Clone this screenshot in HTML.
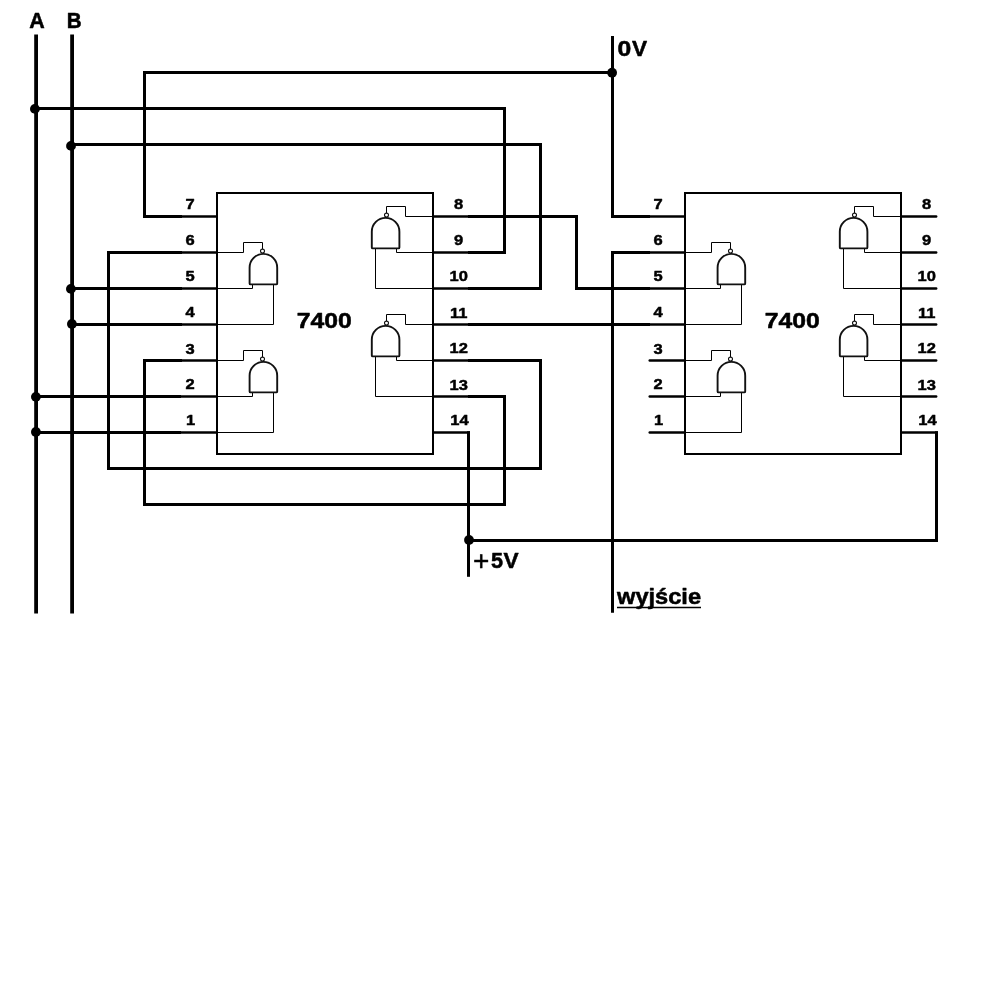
<!DOCTYPE html>
<html><head><meta charset="utf-8"><title>7400</title>
<style>
html,body{margin:0;padding:0;background:#fff;}
body{width:1000px;height:1000px;overflow:hidden;font-family:"Liberation Sans",sans-serif;}
svg{display:block;will-change:transform;}
.s3{fill:none;stroke:#000;stroke-width:3.0;stroke-linecap:butt;stroke-linejoin:miter;}
.s2{fill:none;stroke:#000;stroke-width:2.4;}
.rc{stroke-linecap:round;}
.s1{fill:none;stroke:#000;stroke-width:1;}
.chip{fill:#fff;stroke:#000;stroke-width:2;}
.gt{fill:#fff;stroke:#111;stroke-width:1.9;stroke-linejoin:round;}
.bb{fill:#fff;stroke:#111;stroke-width:1.1;}
text{font-family:"Liberation Sans",sans-serif;font-weight:bold;fill:#000;text-anchor:middle;stroke:#000;stroke-width:0.5px;stroke-linejoin:round;}
text.l{text-anchor:start;}
.pin{font-size:14px;stroke-width:0.45px;}
.big{font-size:20.6px;}
.plus{font-size:28px;font-weight:normal;stroke-width:0.45px;}
</style></head><body>
<svg width="1000" height="1000" viewBox="0 0 1000 1000">
<path d="M36.1,34.5 V613.5 M72.1,34.5 V613.5" class="s3" style="stroke-width:3.8"/>
<path d="M612.5,36.0 L612.5,216.5 L650,216.5" class="s3"/>
<path d="M612.5,72.5 L144.5,72.5 L144.5,216.5 L182,216.5" class="s3"/>
<path d="M36.5,108.5 L504.5,108.5 L504.5,252.5 L468,252.5" class="s3"/>
<path d="M72.5,144.5 L540.5,144.5 L540.5,288.5 L468,288.5" class="s3"/>
<path d="M72.5,288.5 L182,288.5" class="s3"/>
<path d="M72.5,324.5 L182,324.5" class="s3"/>
<path d="M36.5,396.5 L181,396.5" class="s3"/>
<path d="M36.5,432.5 L181,432.5" class="s3"/>
<path d="M182,252.5 L108.5,252.5 L108.5,468.5 L540.5,468.5 L540.5,360.5 L468,360.5" class="s3"/>
<path d="M182,360.5 L144.5,360.5 L144.5,504.5 L504.5,504.5 L504.5,396.5 L468,396.5" class="s3"/>
<path d="M468.5,431.2 L468.5,576.8" class="s3"/>
<path d="M468.5,540.5 L936.5,540.5 L936.5,431.2" class="s3"/>
<path d="M468,216.5 L576.5,216.5 L576.5,288.5 L650,288.5" class="s3"/>
<path d="M468,324.5 L650,324.5" class="s3"/>
<path d="M650,252.5 L612.5,252.5 L612.5,612.8" class="s3"/>
<path d="M180,216.5 H216" class="s2"/>
<path d="M180,252.5 H216" class="s2"/>
<path d="M180,288.5 H216" class="s2"/>
<path d="M180,324.5 H216" class="s2"/>
<path d="M180,360.5 H216" class="s2"/>
<path d="M180,396.5 H216" class="s2"/>
<path d="M180,432.5 H216" class="s2"/>
<path d="M434,216.5 H470" class="s2"/>
<path d="M434,252.5 H470" class="s2"/>
<path d="M434,288.5 H470" class="s2"/>
<path d="M434,324.5 H470" class="s2"/>
<path d="M434,360.5 H470" class="s2"/>
<path d="M434,396.5 H470" class="s2"/>
<path d="M434,432.5 H470" class="s2"/>
<rect x="217" y="193" width="216" height="261" class="chip"/>
<path d="M217,252.5 H243.5 V242.5 H262.5 V249" class="s1"/>
<path d="M217,288.5 H252.5 V284" class="s1"/>
<path d="M217,324.5 H273.5 V284" class="s1"/>
<path d="M249.6,283.4 L249.6,267.7 A13.799999999999997,13.799999999999997 0 0 1 277.2,267.7 L277.2,283.4 Q277.2,284.4 276.2,284.4 L250.6,284.4 Q249.6,284.4 249.6,283.4 Z" class="gt"/>
<circle cx="262.5" cy="251.1" r="2.0" class="bb"/>
<path d="M217,360.5 H243.5 V350.5 H262.5 V357" class="s1"/>
<path d="M217,396.5 H252.5 V392" class="s1"/>
<path d="M217,432.5 H273.5 V392" class="s1"/>
<path d="M249.6,391.4 L249.6,375.7 A13.799999999999997,13.799999999999997 0 0 1 277.2,375.7 L277.2,391.4 Q277.2,392.4 276.2,392.4 L250.6,392.4 Q249.6,392.4 249.6,391.4 Z" class="gt"/>
<circle cx="262.5" cy="359.1" r="2.0" class="bb"/>
<path d="M432,216.5 H405.5 V206.5 H386.5 V213" class="s1"/>
<path d="M432,252.5 H396.5 V248" class="s1"/>
<path d="M432,288.5 H375.5 V248" class="s1"/>
<path d="M399.4,247.4 L399.4,231.7 A13.799999999999997,13.799999999999997 0 0 0 371.8,231.7 L371.8,247.4 Q371.8,248.4 372.8,248.4 L398.4,248.4 Q399.4,248.4 399.4,247.4 Z" class="gt"/>
<circle cx="386.5" cy="215.1" r="2.0" class="bb"/>
<path d="M432,324.5 H405.5 V314.5 H386.5 V321" class="s1"/>
<path d="M432,360.5 H396.5 V356" class="s1"/>
<path d="M432,396.5 H375.5 V356" class="s1"/>
<path d="M399.4,355.4 L399.4,339.7 A13.799999999999997,13.799999999999997 0 0 0 371.8,339.7 L371.8,355.4 Q371.8,356.4 372.8,356.4 L398.4,356.4 Q399.4,356.4 399.4,355.4 Z" class="gt"/>
<circle cx="386.5" cy="323.1" r="2.0" class="bb"/>
<text class="pin" transform="translate(190,209.0) scale(1.18,1.05)">7</text>
<text class="pin" transform="translate(190,245.0) scale(1.18,1.05)">6</text>
<text class="pin" transform="translate(190,281.0) scale(1.18,1.05)">5</text>
<text class="pin" transform="translate(190,317.0) scale(1.18,1.05)">4</text>
<text class="pin" transform="translate(190,354.0) scale(1.18,1.05)">3</text>
<text class="pin" transform="translate(190,389.0) scale(1.18,1.05)">2</text>
<text class="pin" transform="translate(190.6,425.0) scale(1.18,1.05)">1</text>
<text class="pin" transform="translate(458.7,209.0) scale(1.18,1.05)">8</text>
<text class="pin" transform="translate(458.7,245.0) scale(1.18,1.05)">9</text>
<text class="pin" transform="translate(458.7,281.0) scale(1.18,1.05)">10</text>
<text class="pin" transform="translate(458.7,318.0) scale(1.18,1.05)">11</text>
<text class="pin" transform="translate(458.7,353.0) scale(1.18,1.05)">12</text>
<text class="pin" transform="translate(458.7,390.0) scale(1.18,1.05)">13</text>
<text class="pin" transform="translate(459.5,425.0) scale(1.18,1.05)">14</text>
<text class="big" transform="translate(324.3,328.2) scale(1.2,1.035)">7400</text>
<path d="M648,216.5 H684" class="s2"/>
<path d="M648,252.5 H684" class="s2"/>
<path d="M648,288.5 H684" class="s2"/>
<path d="M648,324.5 H684" class="s2"/>
<path d="M649.7,360.5 H684" class="s2 rc"/>
<path d="M649.7,396.5 H684" class="s2 rc"/>
<path d="M649.7,432.5 H684" class="s2 rc"/>
<path d="M902,216.5 H936.2" class="s2 rc"/>
<path d="M902,252.5 H936.2" class="s2 rc"/>
<path d="M902,288.5 H936.2" class="s2 rc"/>
<path d="M902,324.5 H936.2" class="s2 rc"/>
<path d="M902,360.5 H936.2" class="s2 rc"/>
<path d="M902,396.5 H936.2" class="s2 rc"/>
<path d="M902,432.5 H938" class="s2"/>
<rect x="685" y="193" width="216" height="261" class="chip"/>
<path d="M685,252.5 H711.5 V242.5 H730.5 V249" class="s1"/>
<path d="M685,288.5 H720.5 V284" class="s1"/>
<path d="M685,324.5 H741.5 V284" class="s1"/>
<path d="M717.6,283.4 L717.6,267.7 A13.799999999999997,13.799999999999997 0 0 1 745.2,267.7 L745.2,283.4 Q745.2,284.4 744.2,284.4 L718.6,284.4 Q717.6,284.4 717.6,283.4 Z" class="gt"/>
<circle cx="730.5" cy="251.1" r="2.0" class="bb"/>
<path d="M685,360.5 H711.5 V350.5 H730.5 V357" class="s1"/>
<path d="M685,396.5 H720.5 V392" class="s1"/>
<path d="M685,432.5 H741.5 V392" class="s1"/>
<path d="M717.6,391.4 L717.6,375.7 A13.799999999999997,13.799999999999997 0 0 1 745.2,375.7 L745.2,391.4 Q745.2,392.4 744.2,392.4 L718.6,392.4 Q717.6,392.4 717.6,391.4 Z" class="gt"/>
<circle cx="730.5" cy="359.1" r="2.0" class="bb"/>
<path d="M900,216.5 H873.5 V206.5 H854.5 V213" class="s1"/>
<path d="M900,252.5 H864.5 V248" class="s1"/>
<path d="M900,288.5 H843.5 V248" class="s1"/>
<path d="M867.4,247.4 L867.4,231.7 A13.799999999999997,13.799999999999997 0 0 0 839.8,231.7 L839.8,247.4 Q839.8,248.4 840.8,248.4 L866.4,248.4 Q867.4,248.4 867.4,247.4 Z" class="gt"/>
<circle cx="854.5" cy="215.1" r="2.0" class="bb"/>
<path d="M900,324.5 H873.5 V314.5 H854.5 V321" class="s1"/>
<path d="M900,360.5 H864.5 V356" class="s1"/>
<path d="M900,396.5 H843.5 V356" class="s1"/>
<path d="M867.4,355.4 L867.4,339.7 A13.799999999999997,13.799999999999997 0 0 0 839.8,339.7 L839.8,355.4 Q839.8,356.4 840.8,356.4 L866.4,356.4 Q867.4,356.4 867.4,355.4 Z" class="gt"/>
<circle cx="854.5" cy="323.1" r="2.0" class="bb"/>
<text class="pin" transform="translate(658,209.0) scale(1.18,1.05)">7</text>
<text class="pin" transform="translate(658,245.0) scale(1.18,1.05)">6</text>
<text class="pin" transform="translate(658,281.0) scale(1.18,1.05)">5</text>
<text class="pin" transform="translate(658,317.0) scale(1.18,1.05)">4</text>
<text class="pin" transform="translate(658,354.0) scale(1.18,1.05)">3</text>
<text class="pin" transform="translate(658,389.0) scale(1.18,1.05)">2</text>
<text class="pin" transform="translate(658.6,425.0) scale(1.18,1.05)">1</text>
<text class="pin" transform="translate(926.7,209.0) scale(1.18,1.05)">8</text>
<text class="pin" transform="translate(926.7,245.0) scale(1.18,1.05)">9</text>
<text class="pin" transform="translate(926.7,281.0) scale(1.18,1.05)">10</text>
<text class="pin" transform="translate(926.7,318.0) scale(1.18,1.05)">11</text>
<text class="pin" transform="translate(926.7,353.0) scale(1.18,1.05)">12</text>
<text class="pin" transform="translate(926.7,390.0) scale(1.18,1.05)">13</text>
<text class="pin" transform="translate(927.5,425.0) scale(1.18,1.05)">14</text>
<text class="big" transform="translate(792.3,328.2) scale(1.2,1.035)">7400</text>
<circle cx="34.9" cy="108.9" r="4.9" fill="#000"/>
<circle cx="71.0" cy="145.9" r="4.9" fill="#000"/>
<circle cx="70.9" cy="288.9" r="4.9" fill="#000"/>
<circle cx="71.9" cy="324.0" r="4.9" fill="#000"/>
<circle cx="35.9" cy="396.85" r="4.9" fill="#000"/>
<circle cx="35.9" cy="432.0" r="4.9" fill="#000"/>
<circle cx="612.1" cy="72.7" r="4.9" fill="#000"/>
<circle cx="469.0" cy="540.0" r="4.9" fill="#000"/>
<text class="big" transform="translate(36.9,28) scale(1.04,1.035)">A</text>
<text class="big" transform="translate(74.3,28) scale(1.0,1.035)">B</text>
<text class="big l" transform="translate(617.5,56) scale(1.2,1.035)">0</text>
<text class="big l" transform="translate(631.9,56) scale(1.10,1.035)">V</text>
<text class="plus l" transform="translate(473,570.3) scale(1.0,1)">+</text>
<text class="big l" transform="translate(491.0,568) scale(1.05,1.035)">5</text>
<text class="big l" transform="translate(503.6,568) scale(1.10,1.035)">V</text>
<text class="big l" transform="translate(617,603.7) scale(1.147,1.035)">wyjście</text>
<path d="M617,607.5 H701" stroke="#000" stroke-width="1.4" fill="none"/>
</svg>
</body></html>
